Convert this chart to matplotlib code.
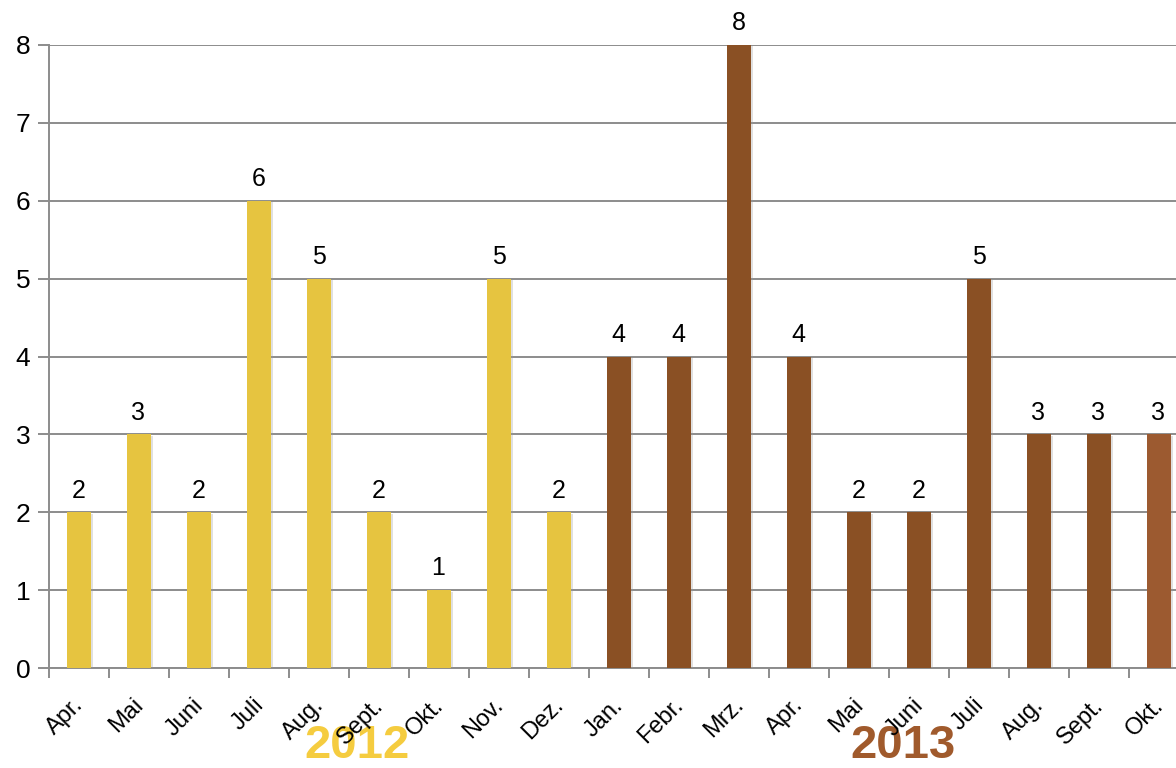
import matplotlib
matplotlib.use("Agg")
import matplotlib.pyplot as plt
import matplotlib.patheffects as pe
import numpy as np

months = ["Apr.", "Mai", "Juni", "Juli", "Aug.", "Sept.", "Okt.", "Nov.", "Dez.",
          "Jan.", "Febr.", "Mrz.", "Apr.", "Mai", "Juni", "Juli", "Aug.", "Sept.", "Okt."]
values = [2, 3, 2, 6, 5, 2, 1, 5, 2, 4, 4, 8, 4, 2, 2, 5, 3, 3, 3]
years = ["2012"] * 9 + ["2013"] * 10

c2012 = "#E6C440"
c2013 = "#8A5024"
c_last = "#9C5A30"
colors = [c2012 if y == "2012" else c2013 for y in years]
colors[-1] = c_last

plt.rcParams['font.family'] = ['Liberation Sans', 'DejaVu Sans']

fig = plt.figure(figsize=(11.76, 7.68), dpi=100)
ax = fig.add_axes([48.5 / 1176, 100 / 768, 1140 / 1176, 623 / 768])
ax.set_zorder(1)
ax.patch.set_alpha(0)

x = np.arange(len(values))
bars = ax.bar(x, values, width=0.4, color=colors, zorder=3)
for b in bars:
    b.set_path_effects([pe.SimplePatchShadow(offset=(1.5, -1), shadow_rgbFace='#999999', alpha=0.3),
                        pe.Normal()])
ax.set_xlim(-0.5, len(values) - 0.5)
ax.set_ylim(0, 8)

grid_c = "#8C8C8C"
ax.set_yticks(range(0, 9))
ax.yaxis.grid(True, color=grid_c, linewidth=1.4, zorder=0)
ax.tick_params(axis='y', length=8, width=1.4, color=grid_c, labelsize=19, pad=5)
ax.set_xticks(np.arange(-0.5, len(values), 1.0))
ax.set_xticklabels([])
ax.tick_params(axis='x', length=7, width=1.4, color=grid_c)
for s in ['top', 'right']:
    ax.spines[s].set_visible(False)
for s in ['left', 'bottom']:
    ax.spines[s].set_color(grid_c)
    ax.spines[s].set_linewidth(1.4)

for xi, v in zip(x, values):
    ax.annotate(str(v), (xi, v), xytext=(0, 7), textcoords='offset points',
                ha='center', va='bottom', fontsize=18, color='black')

for xi, m in zip(x, months):
    ax.annotate(m, (xi, 0), xytext=(4.3, -27.4), textcoords='offset points',
                ha='right', va='baseline', rotation=45, rotation_mode='anchor',
                fontsize=17, color='black', annotation_clip=False)

fig.text(357.5 / 1176, 0.0, "2012", ha='center', va='bottom',
         fontsize=34, fontweight='bold', color="#F5CC3F", zorder=0)
fig.text(903 / 1176, 0.0, "2013", ha='center', va='bottom',
         fontsize=34, fontweight='bold', color="#A05A2C", zorder=0)

fig.savefig("out.png", dpi=100)
